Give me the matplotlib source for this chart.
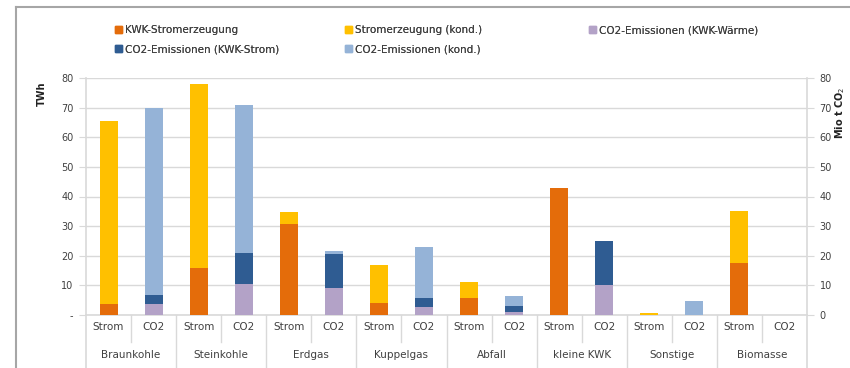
import matplotlib.pyplot as plt
import numpy as np
from matplotlib.lines import Line2D
from matplotlib.patches import Patch
from matplotlib.ticker import FuncFormatter

# data (TWh / Mio t CO2)
groups = ["Braunkohle", "Steinkohle", "Erdgas", "Kuppelgas", "Abfall",
          "kleine KWK", "Sonstige", "Biomasse"]
sub_labels = ["Strom", "CO2"]

kwk_strom = [3.6, 16.0, 30.7, 3.9, 5.6, 43.0, 0.0, 17.4]
kond_strom = [61.9, 61.9, 4.2, 12.9, 5.6, 0.0, 0.8, 17.7]
co2_kwk_waerme = [3.6, 10.5, 9.2, 2.8, 1.1, 10.1, 0.0, 0.0]
co2_kwk_strom = [3.1, 10.3, 11.3, 3.0, 2.0, 14.8, 0.0, 0.0]
co2_kond = [63.3, 50.2, 1.1, 17.2, 3.4, 0.0, 4.7, 0.0]

c_kwk = "#E46C0A"
c_kond = "#FFC000"
c_waerme = "#B3A2C7"
c_co2_kwk = "#2F5C92"
c_co2_kond = "#95B3D7"
txt = "#404040"
grid = "#D9D9D9"

fig = plt.figure(figsize=(8.5, 3.68), dpi=100)
ax = fig.add_axes([86 / 850, 1 - 315 / 368, 721 / 850, 237 / 368])
ax2 = ax.twinx()

n = len(groups)
x_strom = np.arange(n) * 2
x_co2 = x_strom + 1
w = 0.4

ax.bar(x_strom, kwk_strom, w, color=c_kwk, zorder=3)
ax.bar(x_strom, kond_strom, w, bottom=kwk_strom, color=c_kond, zorder=3)

b1 = np.array(co2_kwk_waerme)
b2 = b1 + np.array(co2_kwk_strom)
ax2.bar(x_co2, co2_kwk_waerme, w, color=c_waerme, zorder=3)
ax2.bar(x_co2, co2_kwk_strom, w, bottom=b1, color=c_co2_kwk, zorder=3)
ax2.bar(x_co2, co2_kond, w, bottom=b2, color=c_co2_kond, zorder=3)

for a in (ax, ax2):
    a.set_ylim(0, 80)
    a.set_xlim(-0.5, 2 * n - 0.5)
    a.set_yticks(np.arange(0, 81, 10))
    for s in a.spines.values():
        s.set_visible(False)
    a.tick_params(axis="y", length=5, color=grid, labelsize=7, labelcolor=txt, pad=4)

ax.yaxis.set_major_formatter(FuncFormatter(lambda v, p: "-" if v == 0 else f"{v:.0f}"))
ax.yaxis.grid(True, color=grid, linewidth=1, zorder=0)
ax.set_xticks([])
ax2.set_xticks([])

# axis lines reaching down through the label area
trans = ax.get_xaxis_transform()
for xv in (-0.5, 2 * n - 0.5):
    ax.add_line(Line2D([xv, xv], [1.0, -0.3], transform=trans, color=grid,
                       linewidth=1.2, clip_on=False))
ax.add_line(Line2D([-0.5, 2 * n - 0.5], [0, 0], transform=trans, color=grid,
                   linewidth=1.2, clip_on=False))

# multi-level category axis
for i, g in enumerate(groups):
    for j, lab in enumerate(sub_labels):
        ax.text(2 * i + j, -0.05, lab, transform=trans, ha="center", va="center",
                fontsize=7.5, color=txt)
    ax.text(2 * i + 0.5, -0.17, g, transform=trans, ha="center", va="center",
            fontsize=7.5, color=txt)
    ax.add_line(Line2D([2 * i + 0.5] * 2, [0, -0.115], transform=trans,
                       color=grid, linewidth=1, clip_on=False))
    if i > 0:
        ax.add_line(Line2D([2 * i - 0.5] * 2, [0, -0.3], transform=trans,
                           color=grid, linewidth=1, clip_on=False))

fig.text(42 / 850, 1 - 94 / 368, "TWh", rotation=90, ha="center", va="center",
         fontsize=7, fontweight="bold", color="#222222")
fig.text(840 / 850, 1 - 113 / 368, "Mio t CO$_2$", rotation=90, ha="center",
         va="center", fontsize=7, fontweight="bold", color="#222222")

# outer frame
fig.add_artist(Line2D([16 / 850, 16 / 850], [0, 1 - 7 / 368],
                      transform=fig.transFigure, color="#A6A6A6", linewidth=1.5))
fig.add_artist(Line2D([16 / 850, 1], [1 - 7 / 368] * 2,
                      transform=fig.transFigure, color="#A6A6A6", linewidth=1.5))

# legend, one column block at a time (columns sit at uneven spacing)
legend_cols = [
    (106, [(c_kwk, "KWK-Stromerzeugung"), (c_co2_kwk, "CO2-Emissionen (KWK-Strom)")]),
    (336, [(c_kond, "Stromerzeugung (kond.)"), (c_co2_kond, "CO2-Emissionen (kond.)")]),
    (580, [(c_waerme, "CO2-Emissionen (KWK-Wärme)")]),
]
for xpos, entries in legend_cols:
    leg = fig.legend(handles=[Patch(color=c, label=l) for c, l in entries],
                     loc="upper left", bbox_to_anchor=(xpos / 850, 1 - 16 / 368),
                     frameon=False, fontsize=7.5, handlelength=0.6,
                     handleheight=0.6, handletextpad=0.3, labelspacing=0.85,
                     labelcolor=txt)
    fig.add_artist(leg)

fig.savefig("out.png", dpi=100)
